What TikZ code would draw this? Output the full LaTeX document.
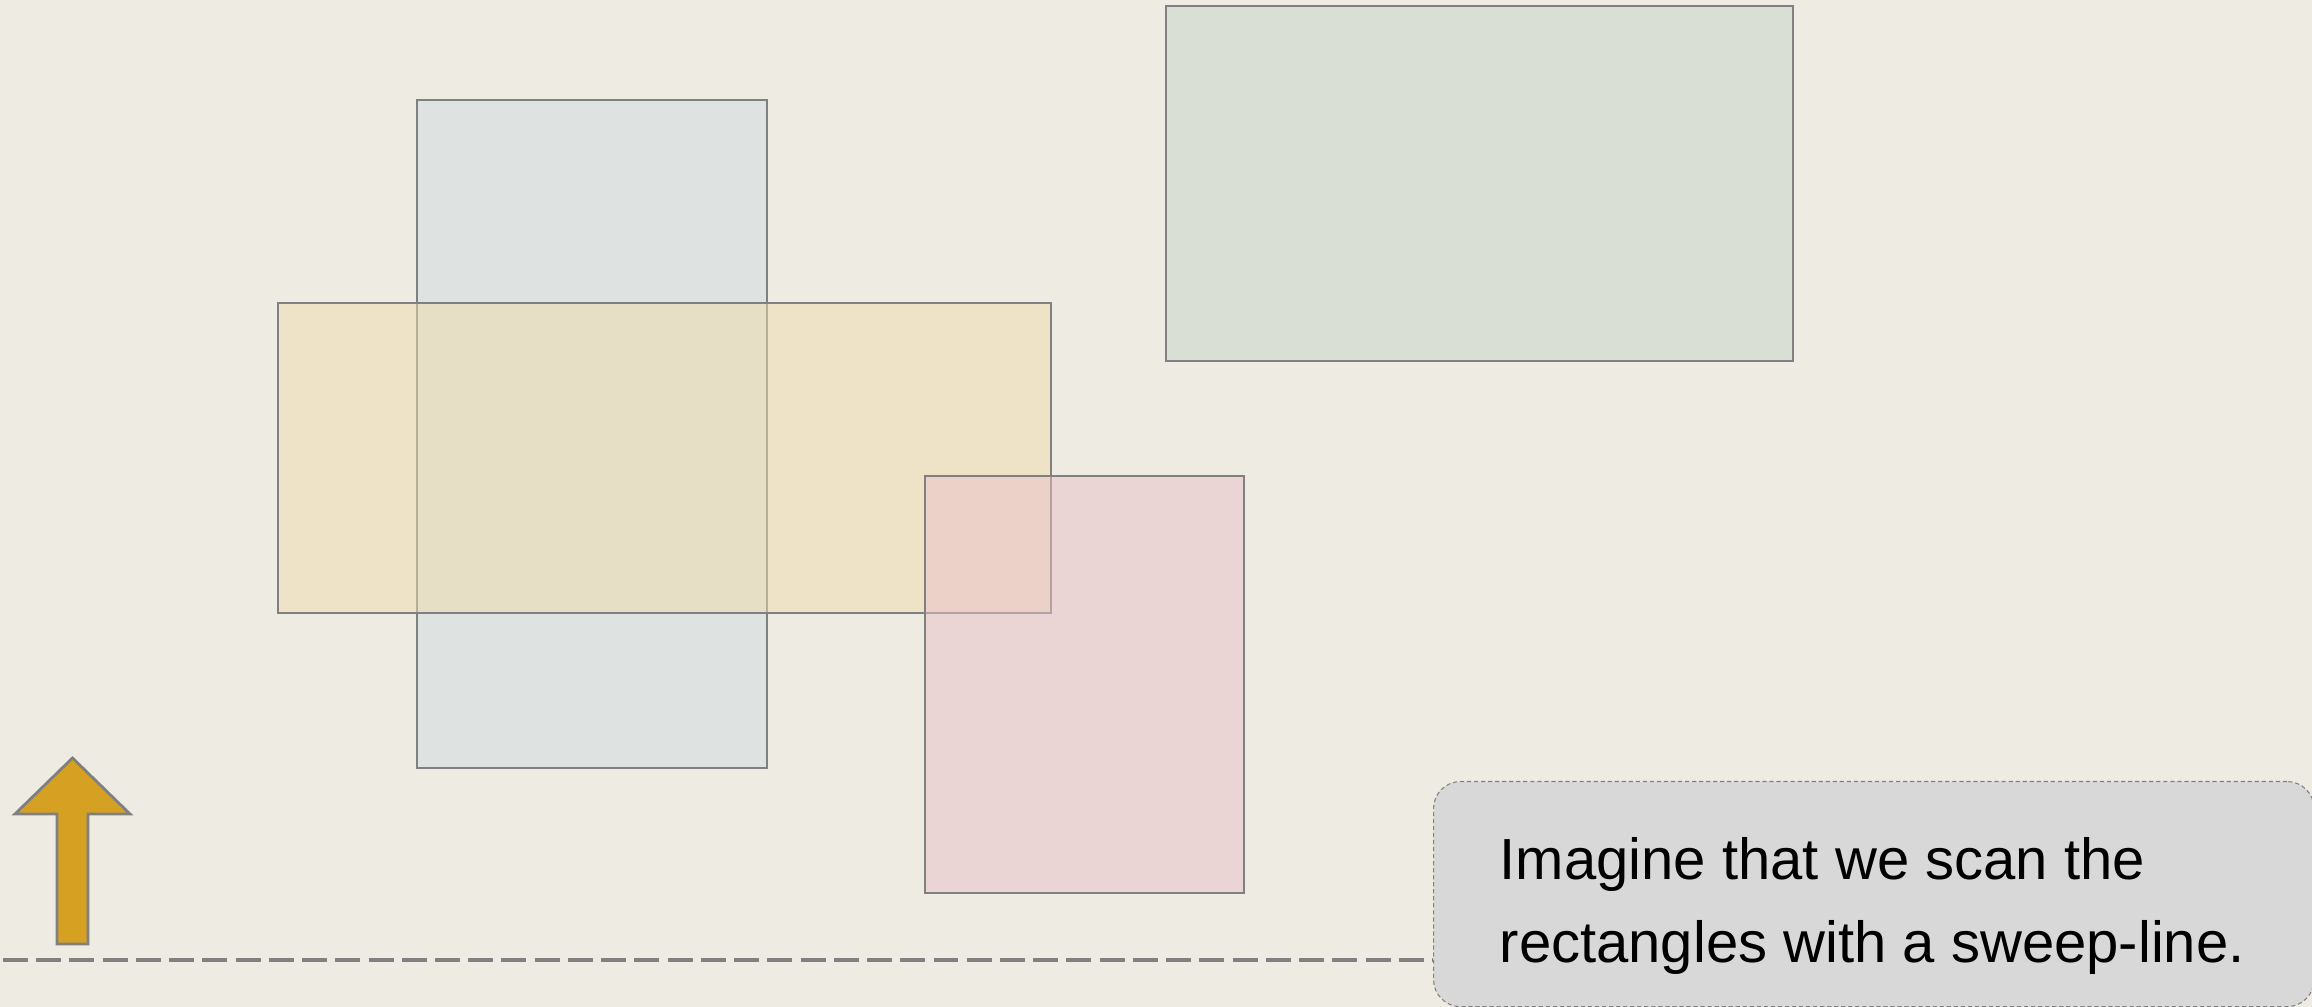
\documentclass[tikz,border=0pt]{standalone}
\usepackage{fontspec}
\setmainfont{Liberation Sans}
\usepackage{tikz}
\usetikzlibrary{positioning, calc}

\definecolor{paper}{RGB}{238, 235, 227}
\definecolor{edgegray}{RGB}{128, 128, 128}
\definecolor{rectblue}{RGB}{208, 221, 225}
\definecolor{rectsand}{RGB}{238, 221, 173}
\definecolor{rectrose}{RGB}{234, 193, 199}
\definecolor{rectsage}{RGB}{200, 213, 201}
\definecolor{arrowgold}{RGB}{214, 160, 34}
\definecolor{notegray}{RGB}{216, 216, 216}

\tikzset{
  isorect/.style={draw=edgegray, line width=0.8pt, fill opacity=0.5, draw opacity=1},
  sweepline/.style={draw=edgegray, line width=1.05pt, dash pattern=on 7.1pt off 2.35pt},
  notebox/.style={draw=edgegray, fill=notegray, line width=0.3pt, dash pattern=on 1.2pt off 0.8pt,
    rounded corners=0.27cm, inner sep=0pt, minimum width=8.8cm, minimum height=2.25cm}
}

\begin{document}
\begin{tikzpicture}[x=0.01cm, y=-0.01cm]
  % page background
  \fill[paper] (0,0) rectangle (2312,1007);
  \useasboundingbox (0,0) rectangle (2312,1007);

  % the rectangles
  \draw[isorect, fill=rectblue] (417,100) rectangle (767,768);
  \draw[isorect, fill=rectsand] (278,303) rectangle (1051,613);
  \draw[isorect, fill=rectrose] (925,476) rectangle (1244,893);
  \draw[isorect, fill=rectsage] (1166,6) rectangle (1793,361);

  % direction of the sweep
  \draw[draw=edgegray, fill=arrowgold, line width=0.8pt]
    (57,944) -- (57,814) -- (15,814) -- (72.5,758) -- (130,814) -- (88,814) -- (88,944) -- cycle;

  % note
  \node[notebox, anchor=north west] (note) at (1433,781) {};
  \node[anchor=north west, inner sep=0pt, align=left, font=\fontsize{16.5}{23.8}\selectfont] (caption) at (1499,836.5)
    {Imagine that we scan the\\rectangles with a sweep-line.};

  % sweep-line
  \coordinate (sweepstart) at (3,960);
  \draw[sweepline] (sweepstart) -- (sweepstart -| note.west);
\end{tikzpicture}
\end{document}
